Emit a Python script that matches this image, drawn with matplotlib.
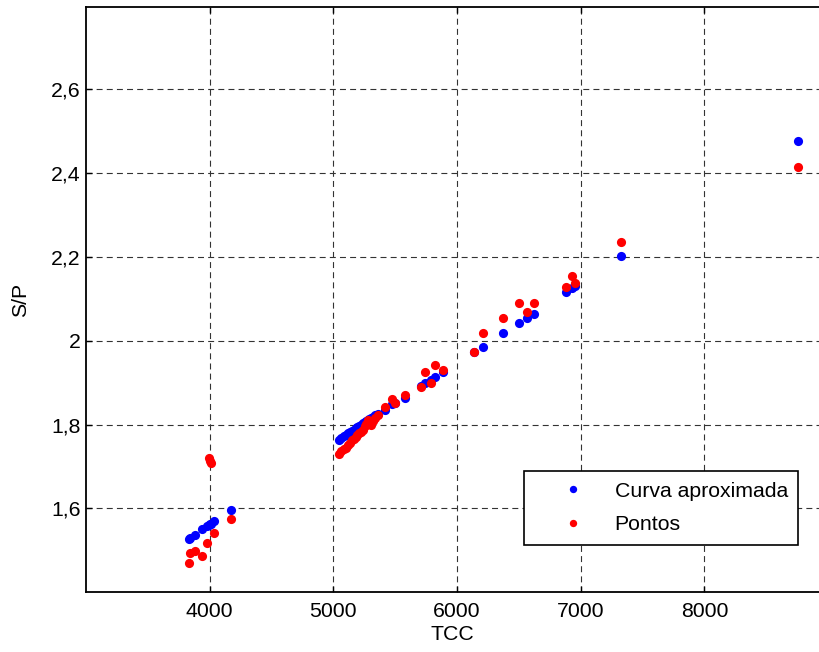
import matplotlib
matplotlib.use("Agg")
import matplotlib.pyplot as plt

# TCC values (shared by both series)
tcc = [3830, 3840, 3879, 3939, 3979, 3995, 4003, 4010, 4035, 4170,
       5043, 5065, 5084, 5100, 5118, 5135, 5150, 5165, 5180, 5195,
       5210, 5225, 5240, 5255, 5268, 5280, 5292, 5305, 5320, 5338, 5358,
       5421, 5475, 5501, 5582, 5709, 5744, 5793, 5820, 5889,
       6135, 6208, 6375, 6499, 6566, 6623, 6884, 6927, 6954, 7329, 8754]

# S/P from fitted curve
sp_curva = [1.527, 1.530, 1.537, 1.550, 1.557, 1.560, 1.562, 1.564, 1.571, 1.596,
            1.764, 1.768, 1.772, 1.775, 1.779, 1.782, 1.785, 1.788, 1.791, 1.794,
            1.797, 1.800, 1.803, 1.806, 1.809, 1.811, 1.813, 1.816, 1.819, 1.822, 1.826,
            1.834, 1.848, 1.852, 1.863, 1.893, 1.899, 1.907, 1.913, 1.925,
            1.972, 1.986, 2.019, 2.043, 2.055, 2.063, 2.117, 2.125, 2.130, 2.203, 2.475]

# S/P measured points
sp_pontos = [1.469, 1.493, 1.498, 1.486, 1.517, 1.720, 1.713, 1.709, 1.542, 1.575,
             1.730, 1.737, 1.741, 1.745, 1.752, 1.756, 1.762, 1.766, 1.770, 1.775,
             1.779, 1.783, 1.788, 1.796, 1.801, 1.810, 1.803, 1.799, 1.808, 1.815, 1.823,
             1.842, 1.860, 1.851, 1.871, 1.890, 1.926, 1.898, 1.942, 1.930,
             1.974, 2.019, 2.055, 2.089, 2.068, 2.089, 2.129, 2.154, 2.138, 2.235, 2.414]

xticks = [4000, 5000, 6000, 7000, 8000]
yticks = [1.6, 1.8, 2.0, 2.2, 2.4, 2.6]
ytick_labels = ["1,6", "1,8", "2", "2,2", "2,4", "2,6"]

plt.rcParams["font.family"] = ["Liberation Sans", "DejaVu Sans"]
plt.rcParams["lines.scale_dashes"] = False
fs = 15.3

W, H = 819, 652
fig = plt.figure(figsize=(W / 100, H / 100), dpi=100)
# axes box runs past the right edge of the picture (cropped like the original)
left, right, bottom, top = 86, 828, 592.3, 7.3
ax = fig.add_axes([left / W, (H - bottom) / H, (right - left) / W, (bottom - top) / H])

ax.plot(tcc, sp_curva, "o", color="#0000ff", ms=6.6, mew=0, label="Curva aproximada")
ax.plot(tcc, sp_pontos, "o", color="#ff0000", ms=6.6, mew=0, label="Pontos")

ax.set_xlim(3000, 9000)
ax.set_ylim(1.4, 2.795)
ax.set_xticks(xticks)
ax.set_xticklabels([str(t) for t in xticks])
ax.set_yticks(yticks)
ax.set_yticklabels(ytick_labels)

ax.grid(True, color="#333333", linestyle=(0, (4.3, 3.0)), linewidth=0.8)
ax.set_axisbelow(True)
for sp in ax.spines.values():
    sp.set_linewidth(1.3)
ax.tick_params(direction="in", length=4, width=1, labelsize=fs, top=True, right=True)
ax.tick_params(axis="x", pad=7)
ax.tick_params(axis="y", pad=4)

ax.set_xlabel("TCC", fontsize=fs)
ax.set_ylabel("S/P", fontsize=fs)
ax.xaxis.set_label_coords(0.4935, -0.056)
ax.yaxis.set_label_coords(-0.075, 0.5)

leg = ax.legend(loc="upper left", bbox_to_anchor=(524 / W, 1 - 471 / H),
                bbox_transform=fig.transFigure, borderaxespad=0, fontsize=fs,
                fancybox=False, frameon=True, handlelength=3.6, handletextpad=0.16,
                borderpad=0.5, labelspacing=0.68, markerscale=0.8)
leg.get_frame().set_edgecolor("k")
leg.get_frame().set_linewidth(1.2)
leg.get_frame().set_alpha(1)

fig.savefig("out.png", dpi=100)
